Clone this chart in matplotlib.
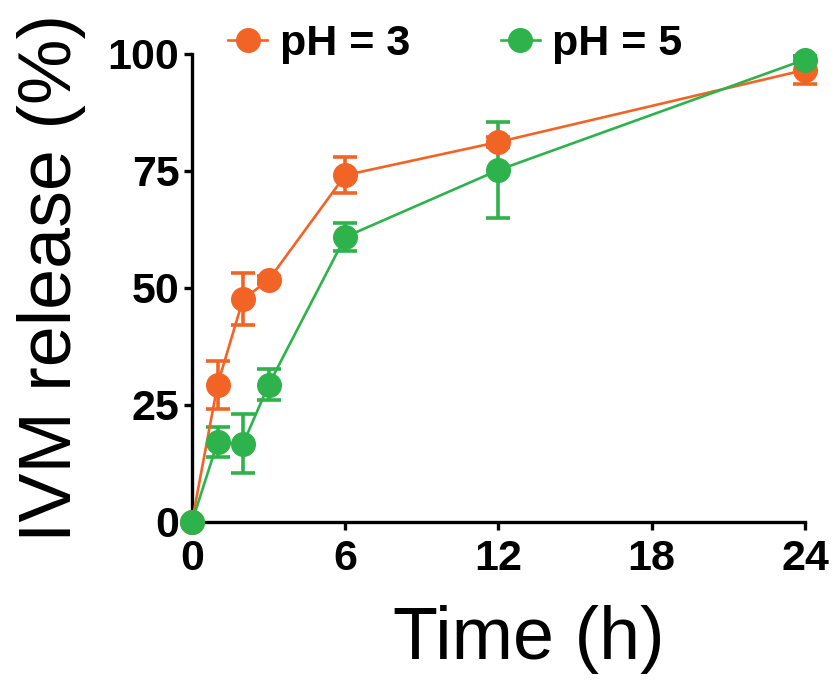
import matplotlib
matplotlib.use("Agg")
import matplotlib.pyplot as plt

plt.rcParams["font.family"] = ["Liberation Sans", "DejaVu Sans"]

# release data
time_h = [0, 1, 2, 3, 6, 12, 24]
ph3_mean = [0, 29.3, 47.6, 51.7, 74.1, 81.2, 96.6]
ph3_err = [0, 5.1, 5.6, 0.8, 3.9, 1.0, 3.0]
ph5_mean = [0, 17.0, 16.7, 29.3, 60.9, 75.2, 98.8]
ph5_err = [0, 3.2, 6.3, 3.3, 2.9, 10.3, 0.8]

series = [
    ("pH = 3", ph3_mean, ph3_err, "#f26426"),
    ("pH = 5", ph5_mean, ph5_err, "#2eb24b"),
]

x_ticks = [0, 6, 12, 18, 24]
y_ticks = [0, 25, 50, 75, 100]

fig = plt.figure(figsize=(8.38, 6.85), dpi=100)
ax = fig.add_axes([0.2291, 0.2380, 0.7315, 0.6832])

handles = []
for label, mean, err, color in series:
    line, caps, bars = ax.errorbar(
        time_h, mean, yerr=err, color=color, ecolor=color,
        marker="o", markersize=17, linewidth=1.9,
        elinewidth=2.6, capsize=8.3, capthick=2.6,
        label=label, clip_on=False, zorder=3,
    )
    for c in caps:
        c.set_clip_on(False)
    for b in bars:
        b.set_clip_on(False)
    handles.append(line)

ax.set_xlim(0, 24)
ax.set_ylim(0, 100)
ax.set_xticks(x_ticks)
ax.set_yticks(y_ticks)

for side in ["top", "right"]:
    ax.spines[side].set_visible(False)
for side in ["left", "bottom"]:
    ax.spines[side].set_linewidth(2.4)

ax.tick_params(axis="both", direction="out", length=6, width=2.4,
               labelsize=31)
ax.tick_params(axis="y", pad=3)
ax.tick_params(axis="x", pad=6)
for lbl in ax.get_xticklabels() + ax.get_yticklabels():
    lbl.set_fontweight("bold")

ax.set_xlabel("Time (h)", fontsize=53, va="center")
ax.xaxis.set_label_coords(0.55, -0.252)
ax.set_ylabel("IVM release (%)", fontsize=53, va="center")
ax.yaxis.set_label_coords(-0.229, 0.521)

leg = ax.legend(
    handles, [s[0] for s in series],
    loc="center", bbox_to_anchor=(0.43, 1.022), ncol=2, frameon=False,
    handlelength=0.9, handletextpad=0.3, columnspacing=2.1,
    prop={"size": 31, "weight": "bold"}, markerscale=1.0,
)

fig.savefig("out.png", dpi=100)
